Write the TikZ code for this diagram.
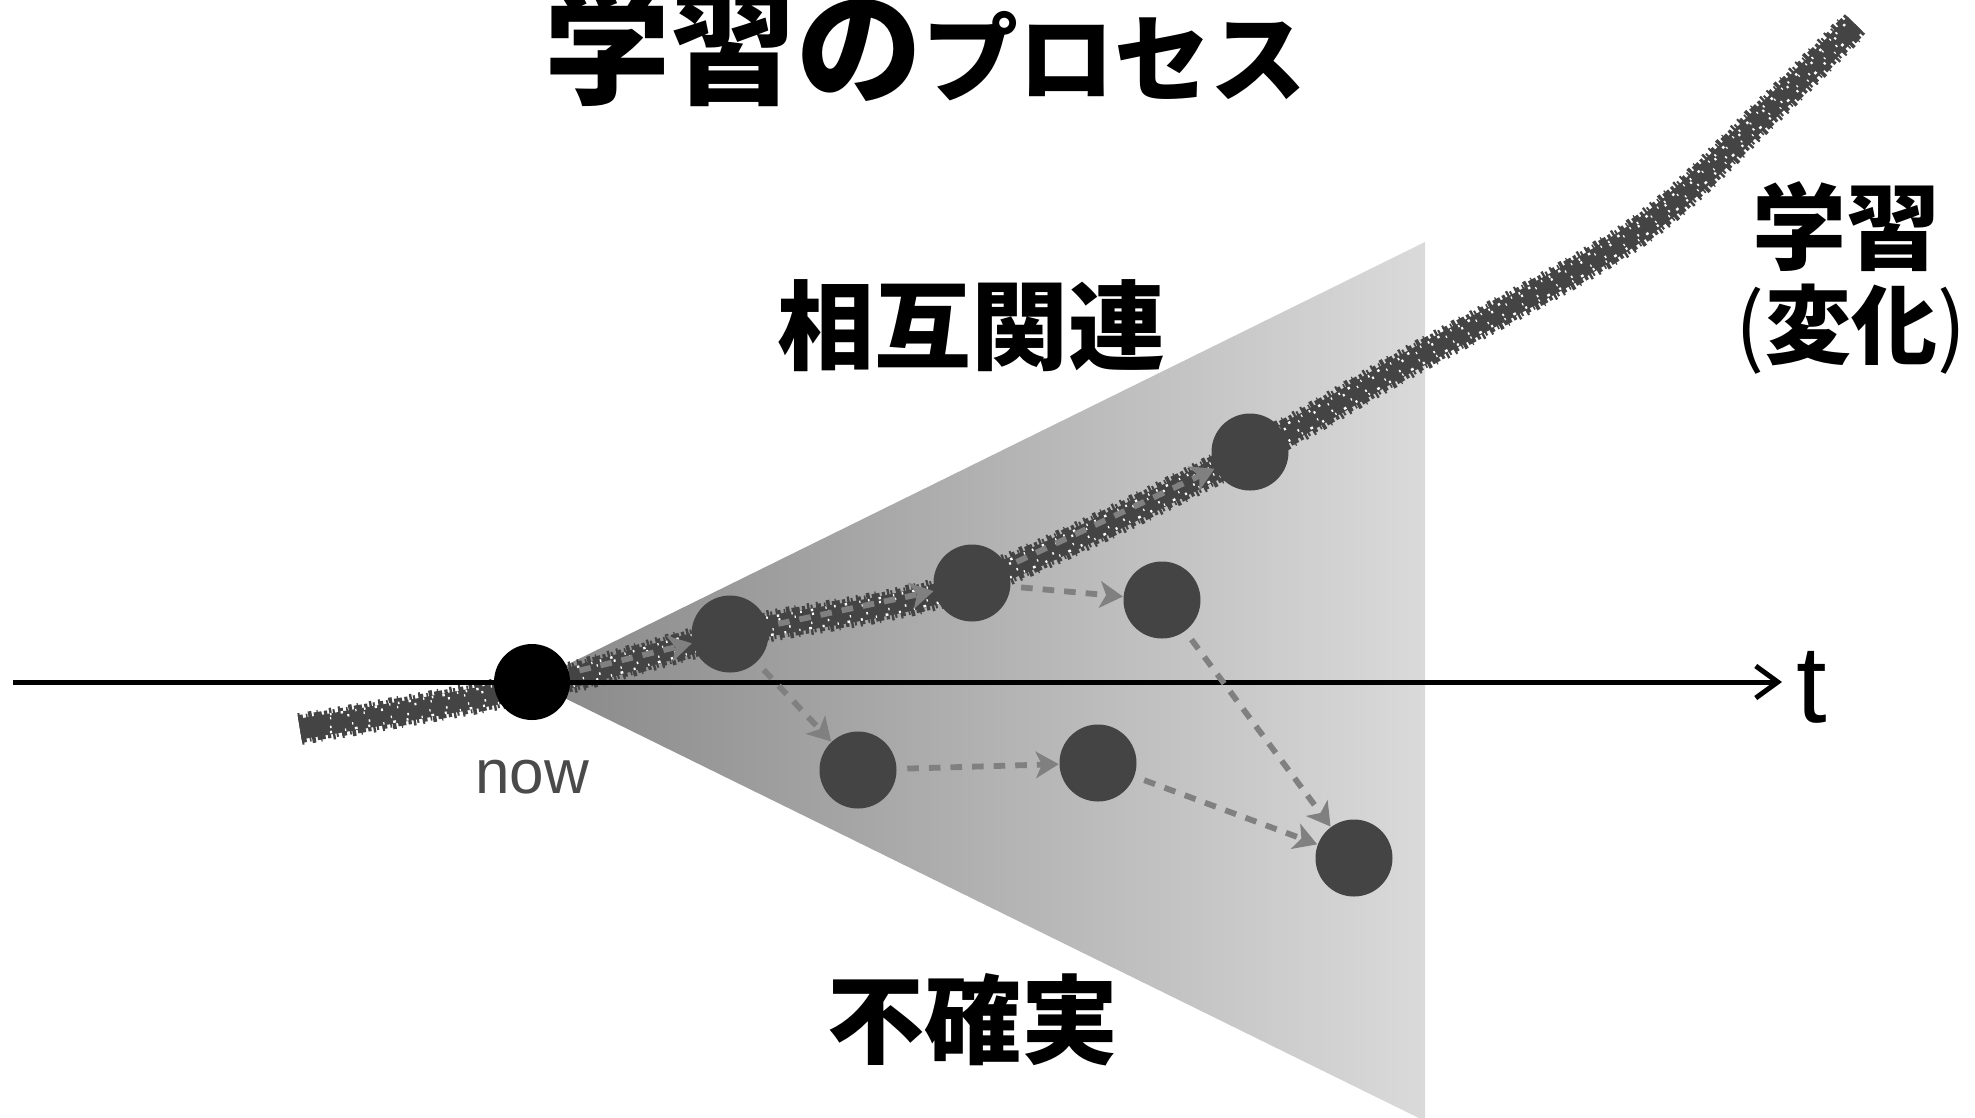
\documentclass[tikz,border=0pt]{standalone}
\usepackage{fontspec}
\setmainfont{Liberation Sans}
\newfontfamily\jp{Noto Sans CJK JP}
\usetikzlibrary{arrows.meta}
\definecolor{dotc}{HTML}{444444}
\definecolor{flowc}{HTML}{808080}
\definecolor{brushc}{HTML}{444444}
\definecolor{coneL}{HTML}{888888}
\definecolor{coneR}{HTML}{DADADA}
\definecolor{nowtext}{HTML}{4A4A4A}
\begin{document}
\begin{tikzpicture}[x=0.25pt,y=-0.25pt,
  state/.style={circle,fill=dotc,minimum size=19.25pt,inner sep=0pt},
  nowdot/.style={circle,fill=black,minimum size=19pt,inner sep=0pt},
  flow/.style={draw=flowc,line width=1.45pt,dash pattern=on 2.9pt off 2.5pt,
    -{Stealth[length=5.8pt,width=6.8pt,inset=1.6pt,line width=0pt]},shorten <=2.5pt},
  jplabel/.style={font=\jp\bfseries\fontsize{24.25pt}{25pt}\selectfont,inner sep=0pt},
  jpside/.style={font=\jp\bfseries\fontsize{23.5pt}{24.5pt}\selectfont,inner sep=0pt},
  jpsub/.style={font=\jp\bfseries\fontsize{21.5pt}{22.5pt}\selectfont,inner sep=0pt},
  brush/.style={draw=brushc,line join=round}]
\useasboundingbox (0,0) rectangle (1975,1117);
\fill[white] (0,0) rectangle (1975,1117);

% cone of possibilities
\coordinate (apex) at (532,682);
\coordinate (coneTop) at (1425,242);
\coordinate (coneBot) at (1425,1121);
\shade[left color=coneL,right color=coneR] (apex) -- (coneTop) -- (coneBot) -- cycle;

% brush stroke (learning curve)
\draw[brush,line width=5.2pt]
  plot[smooth,tension=0.55] coordinates {(300,729) (532,687) (730,634) (972,583) (1250,452) (1400,367) (1633,235) (1767,112) (1855,24)};
\draw[brush,line width=7pt,dash pattern=on 1.2pt off 0.8pt on 0.4pt off 1.6pt on 2pt off 0.6pt on 0.8pt off 1.4pt on 0.5pt off 0.9pt]
  plot[smooth,tension=0.55] coordinates {(300,729) (532,687) (730,634) (972,583) (1250,452) (1400,367) (1633,235) (1767,112) (1855,24)};
\draw[brush,line width=8pt,dash pattern=on 0.5pt off 2.1pt on 0.9pt off 1.3pt on 0.3pt off 2.8pt on 0.6pt off 1.7pt]
  plot[smooth,tension=0.55] coordinates {(300,729) (532,687) (730,634) (972,583) (1250,452) (1400,367) (1633,235) (1767,112) (1855,24)};
\foreach \dy/\pat in {2.2/{on 0.4pt off 2.3pt on 0.6pt off 3.1pt on 0.3pt off 1.9pt},
                     -2.3/{on 0.5pt off 3.3pt on 0.3pt off 2.2pt on 0.7pt off 2.7pt},
                     1.2/{on 0.3pt off 4.1pt on 0.5pt off 3.6pt},
                     -1.0/{on 0.4pt off 5.2pt on 0.3pt off 3.9pt}}{
  \draw[white,line width=0.6pt,yshift=\dy pt,dash pattern/.expanded=\pat]
    plot[smooth,tension=0.55] coordinates {(330,723) (532,687) (730,634) (972,583) (1250,452) (1400,367) (1633,235) (1767,112) (1845,33)};
}

% time axis
\coordinate (axL) at (13,682);
\coordinate (axR) at (1782,682);
\draw[line width=1.25pt,-{Straight Barb[length=5.5pt,width=8pt]}] (axL) -- (axR);
\node[font=\fontsize{27.5pt}{28pt}\selectfont,anchor=base,inner sep=0pt] (tlabel) at (1812,722) {t};

% states
\node[nowdot] (now) at (apex) {};
\node[state] (a) at (730,634) {};
\node[state] (b) at (972,583) {};
\node[state] (c) at (1250,452) {};
\node[state] (d) at (1162,600) {};
\node[state] (e) at (858,770) {};
\node[state] (f) at (1098,763) {};
\node[state] (g) at (1354,858) {};

% transitions
\draw[flow] (now) -- (a);
\draw[flow] (a) -- (b);
\draw[flow] (b) -- (c);
\draw[flow] (b) -- (d);
\draw[flow] (a) -- (e);
\draw[flow] (e) -- (f);
\draw[flow] (f) -- (g);
\draw[flow] (d) -- (g);

% labels
\node[text=nowtext,font=\fontsize{15.5pt}{16pt}\selectfont,anchor=base,inner sep=0pt] (nowlabel) at (532,793) {now};
\node[anchor=base west,inner sep=0pt] (title) at (544,94)
  {\jp\bfseries\fontsize{31.5pt}{32pt}\selectfont 学習の\fontsize{24pt}{24pt}\selectfont プロセス};
\node[jplabel] (rel) at (971,326) {相互関連};
\node[jplabel] (unc) at (973,1020) {不確実};
\node[jpside] (learn) at (1846,227) {学習};
\node[jpsub] (change) at (1851,329) {{\mdseries(}変化{\mdseries)}};
\end{tikzpicture}
\end{document}
